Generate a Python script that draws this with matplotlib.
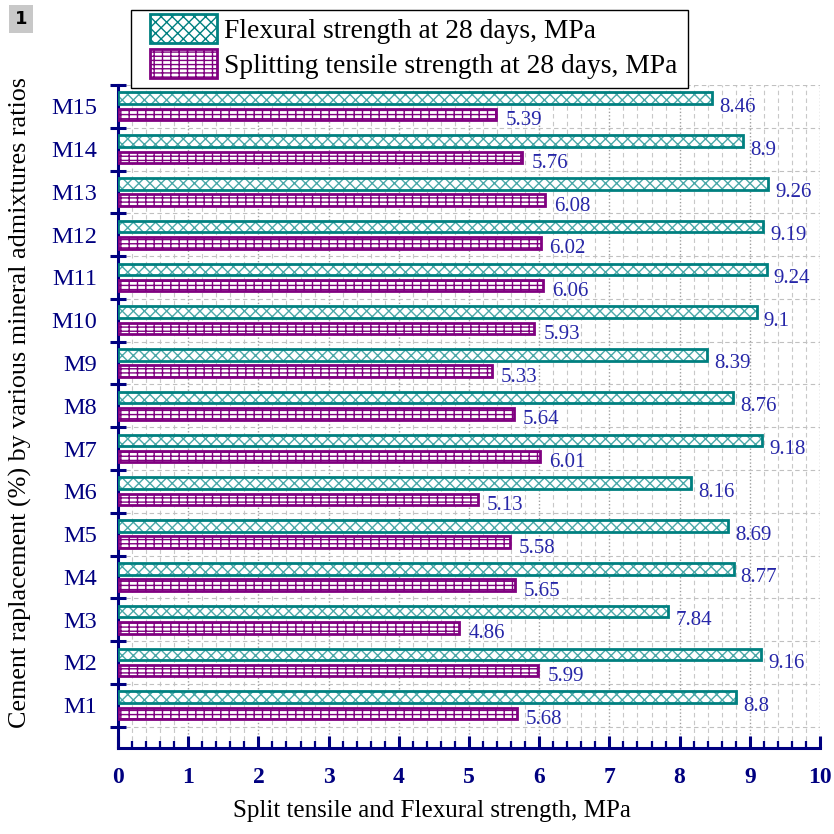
import matplotlib
matplotlib.use("Agg")
import matplotlib.pyplot as plt
from matplotlib.patches import Patch, Rectangle
from matplotlib.ticker import MultipleLocator, FixedLocator
import numpy as np

categories = ["M1", "M2", "M3", "M4", "M5", "M6", "M7", "M8", "M9", "M10",
              "M11", "M12", "M13", "M14", "M15"]
flexural = [8.8, 9.16, 7.84, 8.77, 8.69, 8.16, 9.18, 8.76, 8.39, 9.1,
            9.24, 9.19, 9.26, 8.9, 8.46]
splitting = [5.68, 5.99, 4.86, 5.65, 5.58, 5.13, 6.01, 5.64, 5.33, 5.93,
             6.06, 6.02, 6.08, 5.76, 5.39]
x_ticks = [0, 1, 2, 3, 4, 5, 6, 7, 8, 9, 10]
legend_labels = ["Flexural strength at 28 days, MPa",
                 "Splitting tensile strength at 28 days, MPa"]

TEAL = "#008080"
TEAL_LIGHT = "#4aa8a8"
PURPLE = "#800080"
NAVY = "#000080"
LBLUE = "#2626a8"
SERIF = "Liberation Serif"

plt.rcParams["hatch.linewidth"] = 1.0
plt.rcParams["font.family"] = SERIF

W = 834
fig = plt.figure(figsize=(8.34, 8.34), dpi=100)
ax = fig.add_axes([118/W, 1-748/W, (820-118)/W, (748-85)/W])

pos = np.arange(1, len(categories) + 1)
h = 0.27
off = 0.19
# hatch fill (lighter teal) then outline (dark teal)
ax.barh(pos + off, flexural, height=h, color="white", edgecolor=TEAL_LIGHT,
        hatch="xxx", linewidth=0, zorder=3)
ax.barh(pos + off, flexural, height=h, color="none", edgecolor=TEAL,
        linewidth=2.0, zorder=4)
ax.barh(pos - off, splitting, height=h, color="white", edgecolor=PURPLE,
        hatch="----||", linewidth=2.0, zorder=3)

for p, v in zip(pos, flexural):
    ax.annotate(f"{v:g}", (v, p + off), xytext=(7, -9), textcoords="offset pixels",
                ha="left", va="center", color=LBLUE, fontsize=15, family=SERIF)
for p, v in zip(pos, splitting):
    ax.annotate(f"{v:g}", (v, p - off), xytext=(9, -6), textcoords="offset pixels",
                ha="left", va="center", color=LBLUE, fontsize=15, family=SERIF)

ax.set_xlim(0, 10)
ax.set_ylim(0, 15.5)
ax.xaxis.set_major_locator(FixedLocator(x_ticks))
ax.xaxis.set_minor_locator(MultipleLocator(0.2))
ax.set_xticklabels([str(t) for t in x_ticks], fontsize=17, fontweight="bold",
                   color=NAVY, family=SERIF)
ax.tick_params(axis="x", which="major", direction="in", length=9, width=2.2,
               color=NAVY, pad=14)
ax.tick_params(axis="x", which="minor", direction="in", length=5, width=1.6,
               color=NAVY)

ax.set_yticks(pos)
ax.set_yticklabels(categories, fontsize=17.5, color=NAVY, family=SERIF)
ax.yaxis.set_minor_locator(FixedLocator(np.arange(0.5, 16, 1.0)))
ax.tick_params(axis="y", which="major", length=0, pad=15)
ax.tick_params(axis="y", which="minor", direction="inout", length=12, width=2.2,
               color=NAVY)

for s in ["top", "right"]:
    ax.spines[s].set_visible(False)
for s in ["left", "bottom"]:
    ax.spines[s].set_color(NAVY)
    ax.spines[s].set_linewidth(2.2)

ax.grid(axis="x", which="minor", color="#c8c8c8", linestyle=(0, (4, 3)), linewidth=0.8, zorder=0)
ax.grid(axis="x", which="major", color="#a0a0a0", linestyle=(0, (1, 1.5)), linewidth=1.0, zorder=0)
ax.grid(axis="y", which="minor", color="#c0c0c0", linestyle=(0, (4, 3)), linewidth=0.8, zorder=0)
ax.grid(axis="y", which="major", visible=False)
ax.set_axisbelow(True)

ax.set_xlabel("Split tensile and Flexural strength, MPa", fontsize=18,
              family=SERIF, color="black")
ax.xaxis.set_label_coords((432-118)/702, -(800-748)/663)
ax.set_ylabel("Cement raplacement (%) by various mineral admixtures ratios",
              fontsize=18.8, family=SERIF, color="black")
ax.yaxis.set_label_coords(-(118-32)/702, (748-402.5)/663)

# legend: frame drawn as a rectangle, entries via fig.legend
fig.patches.append(Rectangle((131/W, 1-88/W), (688-131)/W, (88-10)/W,
                             transform=fig.transFigure, facecolor="white",
                             edgecolor="black", linewidth=1.0, zorder=5))
handles = [Patch(facecolor="white", edgecolor=TEAL, hatch="xxx", linewidth=2.0),
           Patch(facecolor="white", edgecolor=PURPLE, hatch="----||", linewidth=2.0)]
leg = fig.legend(handles, legend_labels, loc="upper left",
                 bbox_to_anchor=(150/W, 1-14/W), bbox_transform=fig.transFigure,
                 fontsize=19.8, frameon=False,
                 handlelength=2.44, handleheight=1.25, handletextpad=0.25,
                 labelspacing=0.2, borderpad=0, borderaxespad=0)
leg.set_zorder(6)
for t in leg.get_texts():
    t.set_family(SERIF)

fig.text(21/W, 1-19/W, "1", fontsize=13, fontweight="bold", family="DejaVu Sans",
         ha="center", va="center",
         bbox=dict(boxstyle="square,pad=0.3", facecolor="#c8c8c8", edgecolor="none"))

fig.savefig("out.png", dpi=100)
